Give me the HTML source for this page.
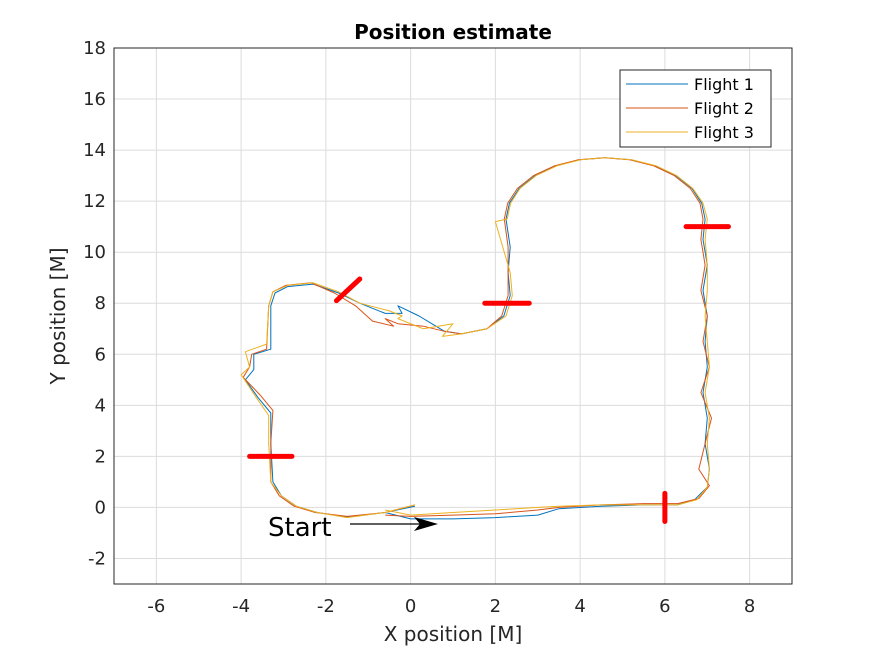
<!DOCTYPE html>
<html><head><meta charset="utf-8">
<style>
body{margin:0;background:#fff;}
svg text{font-family:"DejaVu Sans","Liberation Sans",sans-serif;}
</style></head>
<body>
<svg id="chart" width="875" height="656" xmlns="http://www.w3.org/2000/svg">
<rect width="875" height="656" fill="#fff"/>
<g id="grid"></g>
<g id="ticks"></g>
<g id="series"></g>
<g id="markers"></g>
<rect x="114" y="48" width="678" height="536" fill="none" stroke="#262626" stroke-width="1"/>
<text x="453" y="39" font-size="20" font-weight="bold" text-anchor="middle" fill="#000">Position estimate</text>
<text x="453" y="641" font-size="20" text-anchor="middle" fill="#262626">X position [M]</text>
<text transform="translate(65,316) rotate(-90)" font-size="20" text-anchor="middle" fill="#262626">Y position [M]</text>
<g>
<text x="268" y="536" font-size="26" fill="#000">Start</text>
<line x1="350" y1="524" x2="420" y2="524" stroke="#000" stroke-width="1.2"/>
<polygon points="438,524 414,517 420,524 414,531" fill="#000"/>
</g>
<g>
<rect x="620" y="70" width="151" height="77" fill="#fff" stroke="#262626" stroke-width="1"/>
<line x1="626" y1="84" x2="688" y2="84" stroke="#0072BD" stroke-width="1"/>
<text x="694" y="90" font-size="16" fill="#000">Flight 1</text>
<line x1="626" y1="108" x2="688" y2="108" stroke="#D95319" stroke-width="1"/>
<text x="694" y="114" font-size="16" fill="#000">Flight 2</text>
<line x1="626" y1="132" x2="688" y2="132" stroke="#EDB120" stroke-width="1"/>
<text x="694" y="138" font-size="16" fill="#000">Flight 3</text>
</g>
</svg>
<script>
const xTicks=[-6,-4,-2,0,2,4,6,8];
const yTicks=[-2,0,2,4,6,8,10,12,14,16,18];
const f1x=[-0.6,0,1,2,3,3.5,4.5,5.5,6.3,6.7,7.0,7.05,6.95,7.0,6.9,7.0,6.95,7.0,6.9,7.0,6.9,6.95,6.87,6.64,6.26,5.78,5.21,4.6,3.99,3.43,2.94,2.56,2.33,2.25,2.35,2.3,2.35,2.2,1.8,1.2,0.8,0.5,0.2,-0.3,-0.2,-0.6,-1.2,-1.7,-2.3,-2.9,-3.2,-3.3,-3.3,-3.7,-3.7,-3.9,-3.6,-3.3,-3.3,-3.25,-3.05,-2.7,-2.2,-1.5,-0.6,0.1];
const f1y=[-0.2,-0.45,-0.45,-0.4,-0.3,-0.05,0.05,0.1,0.1,0.3,0.8,1.5,2.5,3.5,4.5,5.5,6.5,7.5,8.5,9.5,10.5,11.3,11.92,12.5,13.0,13.38,13.62,13.7,13.62,13.38,13.0,12.5,11.92,11.3,10.2,9.2,8.3,7.5,7.0,6.8,6.9,7.2,7.5,7.9,7.6,7.6,8.0,8.4,8.75,8.65,8.4,7.9,6.2,6.0,5.4,5.0,4.3,3.7,2.5,1.0,0.45,0.05,-0.2,-0.38,-0.2,0.05];
const f2x=[-0.6,0,1,2,3,3.5,4.5,5.5,6.3,6.8,7.05,6.8,6.95,7.1,6.85,7.05,6.9,7.0,6.85,6.95,6.85,6.9,6.83,6.6,6.22,5.74,5.17,4.56,3.95,3.39,2.9,2.52,2.29,2.21,2.3,2.3,2.3,2.15,1.8,1.2,0.8,0.3,-0.3,-0.6,-0.4,-0.9,-1.3,-1.8,-2.35,-2.95,-3.25,-3.35,-3.4,-3.75,-3.8,-3.95,-3.55,-3.25,-3.3,-3.3,-3.1,-2.75,-2.25,-1.5,-0.6,0.1];
const f2y=[-0.3,-0.35,-0.3,-0.25,-0.1,0.0,0.1,0.15,0.15,0.35,0.85,1.5,2.5,3.5,4.5,5.5,6.5,7.5,8.5,9.5,10.5,11.3,11.92,12.5,13.0,13.38,13.62,13.7,13.62,13.38,13.0,12.5,11.92,11.3,10.2,9.2,8.3,7.5,7.0,6.8,6.9,7.1,7.2,7.4,7.1,7.3,7.9,8.4,8.8,8.7,8.45,7.9,6.2,6.0,5.5,5.1,4.4,3.8,2.5,1.0,0.45,0.05,-0.2,-0.35,-0.2,0.1];
const f3x=[-0.6,0,1,2,3,3.5,4.5,5.5,6.3,6.75,7.0,7.05,7.0,7.05,6.95,7.05,7.0,6.95,7.0,7.0,6.95,7.0,6.9,6.66,6.28,5.8,5.23,4.62,4.01,3.45,2.96,2.58,2.36,2.28,2.0,2.35,2.4,2.25,1.8,1.2,0.75,1.0,0.3,-0.3,-0.2,-0.5,-1.2,-1.7,-2.3,-2.9,-3.25,-3.35,-3.4,-3.9,-3.8,-4.0,-3.6,-3.35,-3.35,-3.3,-3.05,-2.7,-2.2,-1.5,-0.6,0.1];
const f3y=[-0.1,-0.3,-0.2,-0.1,0.0,0.05,0.1,0.1,0.1,0.3,0.8,1.5,2.5,3.5,4.5,5.5,6.5,7.5,8.5,9.5,10.5,11.3,11.92,12.5,13.0,13.38,13.62,13.7,13.62,13.38,13.0,12.5,11.92,11.3,11.2,9.2,8.3,7.5,7.0,6.8,6.7,7.2,7.0,7.4,7.5,7.7,8.0,8.45,8.8,8.7,8.45,7.9,6.4,6.1,5.5,5.2,4.2,3.6,2.5,1.0,0.45,0.05,-0.2,-0.4,-0.2,0.1];
const mkX1=[-3.8,-1.75,1.75,6.5,6.0];
const mkY1=[2.0,8.1,8.0,11.0,-0.55];
const mkX2=[-2.8,-1.2,2.8,7.5,6.0];
const mkY2=[2.0,8.95,8.0,11.0,0.55];

const NS="http://www.w3.org/2000/svg";
const X0=114,X1=792,Y0=584,Y1=48,XMIN=-7,XMAX=9,YMIN=-3,YMAX=18;
function sx(v){return X0+(v-XMIN)/(XMAX-XMIN)*(X1-X0);}
function sy(v){return Y0-(v-YMIN)/(YMAX-YMIN)*(Y0-Y1);}
function mk(tag,attrs,parent){const e=document.createElementNS(NS,tag);for(const k in attrs)e.setAttribute(k,attrs[k]);parent.appendChild(e);return e;}
const grid=document.getElementById('grid'),ticks=document.getElementById('ticks'),series=document.getElementById('series'),markers=document.getElementById('markers');
xTicks.forEach(t=>{
 const g=mk('line',{x1:sx(t),x2:sx(t),y1:Y1,y2:Y0,stroke:'#dcdcdc','stroke-width':1},grid);
 
 
 const tk=mk('text',{x:sx(t),y:Y0+28,'font-size':18,'text-anchor':'middle',fill:'#262626'},ticks);
 tk.textContent=t;
 
 
});
yTicks.forEach(t=>{
 const g=mk('line',{x1:X0,x2:X1,y1:sy(t),y2:sy(t),stroke:'#dcdcdc','stroke-width':1},grid);
 
 
 const tk=mk('text',{x:X0-8,y:sy(t)+6,'font-size':18,'text-anchor':'end',fill:'#262626'},ticks);
 tk.textContent=t;
 
 
});
function drawSeries(xs,ys,color,name){
 const d=xs.map((v,i)=>(i?'L':'M')+sx(v).toFixed(1)+','+sy(ys[i]).toFixed(1)).join('');
 const p=mk('path',{d:d,fill:'none',stroke:color,'stroke-width':1,'stroke-linejoin':'round'},series);
 
 
}
drawSeries(f1x,f1y,'#0072BD','flight-1-line');
drawSeries(f2x,f2y,'#D95319','flight-2-line');
drawSeries(f3x,f3y,'#EDB120','flight-3-line');
mkX1.forEach((v,i)=>{
 const l=mk('line',{x1:sx(v),y1:sy(mkY1[i]),x2:sx(mkX2[i]),y2:sy(mkY2[i]),stroke:'#ff0000','stroke-width':5,'stroke-linecap':'round'},markers);
 
 
});
</script>
</body></html>
